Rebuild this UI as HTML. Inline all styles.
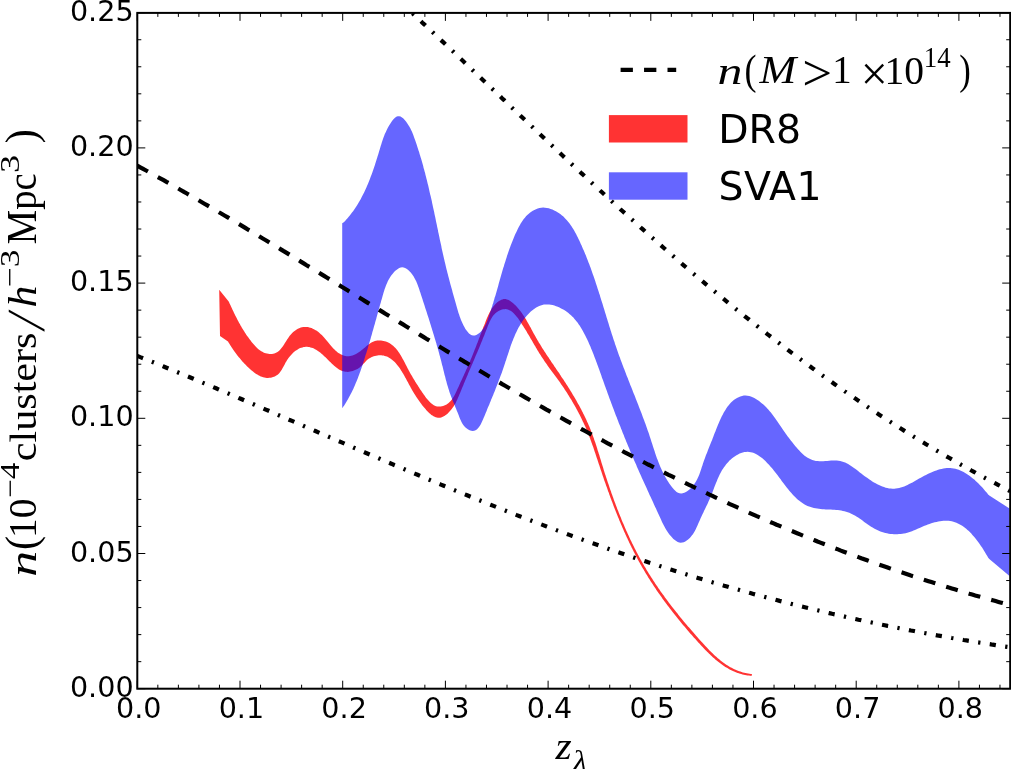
<!DOCTYPE html>
<html><head><meta charset="utf-8"><title>n(z)</title>
<style>
html,body{margin:0;padding:0;background:#fff;}
body{width:1011px;height:769px;overflow:hidden;}
svg{display:block}
.tk{font-family:"DejaVu Sans","Liberation Sans",sans-serif;font-size:28.6px;fill:#000}
.lg{font-family:"DejaVu Sans","Liberation Sans",sans-serif;font-size:39.4px;fill:#000}
.mi{font-family:"Liberation Serif",serif;font-style:italic;fill:#000}
.mr{font-family:"Liberation Serif",serif;fill:#000}
</style></head><body>
<svg width="1011" height="769" viewBox="0 0 1011 769">
<defs><clipPath id="ax"><rect x="137.30" y="12.90" width="872.90" height="675.80"/></clipPath></defs>
<rect width="1011" height="769" fill="#fff"/>
<g clip-path="url(#ax)">
<path d="M219.2 289.8 L228.7 301.5 L228.7 301.5 L229.3 302.7 L229.8 303.9 L230.4 305.1 L230.9 306.3 L231.5 307.5 L232.1 308.7 L232.6 309.9 L233.2 311.1 L233.7 312.2 L234.3 313.4 L234.8 314.5 L235.4 315.7 L236.0 316.8 L236.6 317.9 L237.1 319.1 L237.7 320.2 L238.3 321.3 L238.9 322.4 L239.5 323.5 L240.1 324.6 L240.7 325.7 L241.4 326.8 L242.0 327.9 L242.7 329.0 L243.3 330.1 L244.0 331.1 L244.7 332.2 L245.4 333.3 L246.1 334.4 L246.8 335.5 L247.6 336.5 L248.4 337.6 L249.2 338.7 L250.0 339.8 L250.8 340.8 L251.6 341.9 L252.5 343.0 L253.4 344.0 L254.3 345.1 L255.2 346.1 L256.1 347.0 L257.1 348.0 L258.1 348.9 L259.1 349.7 L260.2 350.5 L261.3 351.2 L262.4 351.8 L263.5 352.4 L264.6 352.9 L265.8 353.3 L267.0 353.6 L268.3 353.8 L269.5 354.0 L270.8 354.0 L272.0 353.9 L273.2 353.7 L274.3 353.5 L275.5 353.1 L276.5 352.6 L277.5 352.0 L278.5 351.3 L279.4 350.5 L280.3 349.6 L281.1 348.6 L281.9 347.6 L282.7 346.6 L283.4 345.5 L284.2 344.3 L284.9 343.1 L285.6 342.0 L286.4 340.8 L287.1 339.6 L287.9 338.4 L288.7 337.2 L289.5 336.1 L290.4 335.0 L291.3 334.0 L292.2 333.0 L293.2 332.1 L294.2 331.2 L295.3 330.4 L296.3 329.7 L297.4 329.1 L298.5 328.5 L299.7 328.0 L300.8 327.6 L302.0 327.3 L303.2 327.0 L304.4 326.9 L305.6 326.9 L306.8 326.9 L308.0 327.1 L309.2 327.4 L310.4 327.7 L311.6 328.1 L312.8 328.7 L314.0 329.2 L315.1 329.9 L316.3 330.6 L317.4 331.3 L318.4 332.1 L319.5 333.0 L320.5 333.9 L321.5 334.8 L322.5 335.7 L323.4 336.7 L324.3 337.7 L325.1 338.7 L326.0 339.7 L326.8 340.7 L327.7 341.7 L328.5 342.8 L329.3 343.8 L330.1 344.8 L331.0 345.8 L331.8 346.8 L332.7 347.8 L333.6 348.7 L334.5 349.6 L335.4 350.5 L336.4 351.3 L337.4 352.2 L338.4 352.9 L339.5 353.6 L340.6 354.3 L341.8 354.8 L342.9 355.3 L344.1 355.7 L345.3 356.0 L346.5 356.2 L347.7 356.3 L348.9 356.2 L350.1 356.1 L351.3 355.8 L352.5 355.4 L353.7 355.0 L354.9 354.5 L356.0 353.9 L357.2 353.2 L358.4 352.5 L359.5 351.7 L360.6 350.9 L361.7 350.0 L362.8 349.2 L363.9 348.3 L365.0 347.4 L366.0 346.5 L367.1 345.6 L368.1 344.8 L369.2 344.0 L370.3 343.2 L371.4 342.6 L372.5 342.0 L373.7 341.5 L374.9 341.1 L376.1 340.8 L377.3 340.6 L378.5 340.5 L379.8 340.5 L381.0 340.5 L382.3 340.7 L383.5 340.9 L384.7 341.2 L385.9 341.5 L387.1 342.0 L388.2 342.5 L389.3 343.0 L390.4 343.7 L391.4 344.4 L392.4 345.2 L393.4 346.0 L394.3 346.9 L395.2 347.8 L396.1 348.8 L396.9 349.8 L397.7 350.8 L398.5 351.9 L399.3 353.0 L400.0 354.2 L400.7 355.3 L401.4 356.5 L402.1 357.7 L402.7 358.9 L403.4 360.1 L404.0 361.3 L404.7 362.5 L405.3 363.7 L405.9 364.9 L406.5 366.1 L407.1 367.3 L407.7 368.4 L408.3 369.5 L408.9 370.7 L409.5 371.8 L410.1 372.9 L410.7 374.0 L411.3 375.0 L412.0 376.1 L412.6 377.2 L413.2 378.2 L413.8 379.3 L414.5 380.3 L415.1 381.4 L415.8 382.5 L416.4 383.5 L417.1 384.6 L417.8 385.6 L418.5 386.7 L419.2 387.8 L419.9 388.9 L420.6 390.0 L421.4 391.1 L422.1 392.2 L422.9 393.3 L423.7 394.5 L424.5 395.6 L425.3 396.8 L426.2 397.9 L427.1 399.0 L428.0 400.1 L428.9 401.1 L429.8 402.1 L430.8 403.0 L431.8 403.8 L432.8 404.6 L433.8 405.2 L434.9 405.7 L436.0 406.2 L437.2 406.5 L438.3 406.6 L439.5 406.6 L440.7 406.5 L441.9 406.3 L443.1 406.0 L444.3 405.6 L445.5 405.0 L446.6 404.4 L447.6 403.7 L448.6 403.0 L449.6 402.1 L450.4 401.2 L451.3 400.2 L452.1 399.2 L452.8 398.1 L453.5 397.0 L454.1 395.9 L454.8 394.7 L455.4 393.5 L456.0 392.3 L456.6 391.1 L457.1 389.8 L457.7 388.6 L458.2 387.4 L458.8 386.2 L459.3 385.0 L459.9 383.7 L460.4 382.5 L461.0 381.3 L461.5 380.2 L462.1 379.0 L462.6 377.8 L463.2 376.6 L463.7 375.4 L464.2 374.3 L464.8 373.1 L465.3 371.9 L465.8 370.8 L466.3 369.6 L466.9 368.4 L467.4 367.3 L467.9 366.1 L468.4 364.9 L468.9 363.8 L469.4 362.6 L469.9 361.4 L470.4 360.2 L470.9 359.1 L471.4 357.9 L471.9 356.7 L472.4 355.5 L472.9 354.3 L473.3 353.2 L473.8 352.0 L474.3 350.8 L474.7 349.6 L475.2 348.4 L475.7 347.2 L476.2 346.0 L476.6 344.8 L477.1 343.6 L477.6 342.4 L478.0 341.2 L478.5 340.0 L478.9 338.8 L479.4 337.6 L479.9 336.4 L480.3 335.1 L480.8 333.9 L481.3 332.7 L481.7 331.5 L482.2 330.3 L482.7 329.1 L483.1 327.8 L483.6 326.6 L484.1 325.4 L484.6 324.2 L485.1 322.9 L485.5 321.7 L486.0 320.5 L486.5 319.2 L487.0 318.0 L487.6 316.8 L488.1 315.6 L488.6 314.4 L489.2 313.2 L489.8 312.0 L490.5 310.9 L491.1 309.7 L491.8 308.6 L492.6 307.5 L493.3 306.5 L494.2 305.5 L495.0 304.5 L496.0 303.5 L497.0 302.6 L498.0 301.8 L499.0 301.0 L500.1 300.4 L501.3 299.8 L502.4 299.4 L503.5 299.1 L504.7 299.0 L505.8 299.1 L506.9 299.4 L508.0 299.8 L509.1 300.3 L510.2 300.9 L511.2 301.7 L512.2 302.5 L513.2 303.3 L514.2 304.2 L515.1 305.1 L516.1 306.1 L517.0 307.0 L517.8 308.0 L518.7 309.0 L519.5 310.0 L520.3 311.0 L521.1 312.1 L521.8 313.1 L522.6 314.2 L523.3 315.2 L524.0 316.3 L524.7 317.4 L525.4 318.5 L526.1 319.6 L526.7 320.8 L527.4 321.9 L528.0 323.0 L528.7 324.2 L529.3 325.3 L529.9 326.5 L530.6 327.6 L531.2 328.8 L531.8 329.9 L532.4 331.1 L533.0 332.2 L533.7 333.4 L534.3 334.5 L534.9 335.6 L535.6 336.8 L536.2 337.9 L536.9 339.0 L537.5 340.2 L538.2 341.3 L538.8 342.4 L539.5 343.5 L540.2 344.6 L540.9 345.7 L541.5 346.8 L542.2 347.9 L542.9 349.0 L543.6 350.1 L544.3 351.2 L545.0 352.2 L545.7 353.3 L546.4 354.4 L547.1 355.5 L547.8 356.5 L548.6 357.6 L549.3 358.7 L550.0 359.8 L550.7 360.8 L551.4 361.9 L552.1 363.0 L552.9 364.0 L553.6 365.1 L554.3 366.2 L555.0 367.2 L555.8 368.3 L556.5 369.4 L557.2 370.4 L557.9 371.5 L558.7 372.6 L559.4 373.6 L560.1 374.7 L560.8 375.8 L561.5 376.9 L562.2 377.9 L563.0 379.0 L563.7 380.1 L564.4 381.2 L565.1 382.3 L565.8 383.3 L566.5 384.4 L567.2 385.5 L567.9 386.6 L568.6 387.7 L569.3 388.8 L570.0 389.9 L570.6 391.0 L571.3 392.1 L572.0 393.3 L572.7 394.4 L573.3 395.5 L574.0 396.6 L574.7 397.7 L575.3 398.8 L576.0 400.0 L576.6 401.1 L577.2 402.2 L577.9 403.4 L578.5 404.5 L579.1 405.6 L579.8 406.8 L580.4 407.9 L581.0 409.1 L581.6 410.2 L582.2 411.4 L582.8 412.5 L583.3 413.7 L583.9 414.8 L584.5 416.0 L585.1 417.2 L585.6 418.3 L586.2 419.5 L586.7 420.7 L587.2 421.9 L587.8 423.0 L588.3 424.2 L588.8 425.4 L589.3 426.6 L589.8 427.8 L590.3 429.0 L590.8 430.2 L591.2 431.4 L591.7 432.6 L592.2 433.8 L592.6 435.0 L593.0 436.2 L593.5 437.4 L593.9 438.6 L594.3 439.9 L594.7 441.1 L595.2 442.3 L595.6 443.5 L596.0 444.7 L596.4 446.0 L596.8 447.2 L597.2 448.4 L597.5 449.7 L597.9 450.9 L598.3 452.1 L598.7 453.4 L599.1 454.6 L599.5 455.8 L599.8 457.1 L600.2 458.3 L600.6 459.6 L601.0 460.8 L601.3 462.0 L601.7 463.3 L602.1 464.5 L602.5 465.7 L602.9 467.0 L603.3 468.2 L603.6 469.5 L604.0 470.7 L604.4 471.9 L604.8 473.2 L605.2 474.4 L605.6 475.6 L606.0 476.9 L606.4 478.1 L606.8 479.3 L607.2 480.6 L607.6 481.8 L608.0 483.0 L608.5 484.3 L608.9 485.5 L609.3 486.7 L609.7 488.0 L610.1 489.2 L610.6 490.4 L611.0 491.6 L611.4 492.9 L611.8 494.1 L612.3 495.3 L612.7 496.5 L613.2 497.7 L613.6 499.0 L614.0 500.2 L614.5 501.4 L614.9 502.6 L615.4 503.8 L615.8 505.1 L616.3 506.3 L616.8 507.5 L617.2 508.7 L617.7 509.9 L618.2 511.1 L618.6 512.3 L619.1 513.5 L619.6 514.7 L620.1 515.9 L620.6 517.1 L621.1 518.3 L621.5 519.5 L622.0 520.7 L622.5 521.9 L623.0 523.1 L623.6 524.3 L624.1 525.5 L624.6 526.7 L625.1 527.9 L625.6 529.1 L626.1 530.3 L626.7 531.4 L627.2 532.6 L627.7 533.8 L628.3 535.0 L628.8 536.1 L629.3 537.3 L629.9 538.5 L630.4 539.7 L631.0 540.8 L631.6 542.0 L632.1 543.2 L632.7 544.3 L633.3 545.5 L633.8 546.6 L634.4 547.8 L635.0 548.9 L635.6 550.1 L636.2 551.2 L636.8 552.4 L637.4 553.5 L638.0 554.7 L638.6 555.8 L639.2 556.9 L639.8 558.1 L640.4 559.2 L641.1 560.3 L641.7 561.4 L642.3 562.6 L643.0 563.7 L643.6 564.8 L644.2 565.9 L644.9 567.0 L645.6 568.1 L646.2 569.3 L646.9 570.4 L647.6 571.5 L648.2 572.6 L648.9 573.7 L649.6 574.8 L650.3 575.8 L651.0 576.9 L651.7 578.0 L652.4 579.1 L653.1 580.2 L653.8 581.3 L654.5 582.3 L655.2 583.4 L655.9 584.5 L656.6 585.6 L657.4 586.6 L658.1 587.7 L658.8 588.8 L659.6 589.8 L660.3 590.9 L661.0 591.9 L661.8 593.0 L662.5 594.0 L663.3 595.1 L664.1 596.1 L664.8 597.2 L665.6 598.2 L666.4 599.3 L667.1 600.3 L667.9 601.3 L668.7 602.4 L669.5 603.4 L670.3 604.4 L671.0 605.5 L671.8 606.5 L672.6 607.5 L673.4 608.6 L674.2 609.6 L675.0 610.6 L675.8 611.6 L676.6 612.6 L677.5 613.6 L678.3 614.7 L679.1 615.7 L679.9 616.7 L680.7 617.7 L681.6 618.7 L682.4 619.7 L683.2 620.7 L684.0 621.7 L684.9 622.7 L685.7 623.7 L686.6 624.7 L687.4 625.7 L688.2 626.7 L689.1 627.6 L689.9 628.6 L690.8 629.6 L691.6 630.6 L692.5 631.6 L693.4 632.6 L694.2 633.6 L695.1 634.5 L695.9 635.5 L696.8 636.5 L697.7 637.5 L698.5 638.4 L699.4 639.4 L700.3 640.4 L701.2 641.4 L702.0 642.3 L702.9 643.3 L703.8 644.3 L704.7 645.2 L705.6 646.2 L706.4 647.1 L707.3 648.1 L708.2 649.0 L709.1 649.9 L710.0 650.9 L711.0 651.8 L711.9 652.7 L712.8 653.6 L713.7 654.5 L714.7 655.4 L715.6 656.2 L716.6 657.1 L717.5 657.9 L718.5 658.8 L719.5 659.6 L720.5 660.4 L721.5 661.2 L722.5 662.0 L723.5 662.7 L724.6 663.5 L725.6 664.2 L726.7 664.9 L727.7 665.6 L728.8 666.2 L729.9 666.9 L731.0 667.5 L732.1 668.1 L733.3 668.7 L734.4 669.2 L735.6 669.8 L736.7 670.3 L737.9 670.7 L739.2 671.2 L740.4 671.6 L741.6 672.0 L742.9 672.4 L744.2 672.7 L745.5 673.1 L746.8 673.3 L748.1 673.6 L749.5 673.8 L750.9 674.0 L752.0 674.1 L751.5 676.0 L750.3 675.8 L748.9 675.6 L747.6 675.4 L746.3 675.2 L745.0 675.0 L743.7 674.7 L742.5 674.4 L741.2 674.1 L740.0 673.7 L738.8 673.3 L737.6 672.9 L736.4 672.5 L735.2 672.0 L734.1 671.5 L732.9 671.0 L731.8 670.5 L730.7 669.9 L729.6 669.4 L728.5 668.8 L727.4 668.1 L726.4 667.5 L725.3 666.9 L724.3 666.2 L723.2 665.5 L722.2 664.8 L721.2 664.1 L720.2 663.3 L719.2 662.6 L718.2 661.8 L717.3 661.0 L716.3 660.2 L715.3 659.4 L714.4 658.6 L713.4 657.8 L712.5 656.9 L711.6 656.1 L710.7 655.2 L709.8 654.3 L708.9 653.5 L708.0 652.6 L707.1 651.7 L706.2 650.8 L705.3 649.9 L704.4 648.9 L703.5 648.0 L702.6 647.1 L701.8 646.2 L700.9 645.2 L700.0 644.3 L699.2 643.3 L698.3 642.4 L697.5 641.5 L696.6 640.5 L695.8 639.6 L694.9 638.6 L694.0 637.7 L693.2 636.7 L692.4 635.8 L691.5 634.8 L690.7 633.9 L689.8 632.9 L689.0 631.9 L688.2 631.0 L687.3 630.0 L686.5 629.1 L685.7 628.1 L684.9 627.1 L684.0 626.1 L683.2 625.2 L682.4 624.2 L681.6 623.2 L680.8 622.2 L680.0 621.3 L679.2 620.3 L678.4 619.3 L677.6 618.3 L676.8 617.3 L676.0 616.3 L675.2 615.3 L674.4 614.3 L673.6 613.3 L672.8 612.3 L672.0 611.3 L671.3 610.3 L670.5 609.3 L669.7 608.3 L669.0 607.3 L668.2 606.3 L667.4 605.3 L666.7 604.3 L665.9 603.3 L665.2 602.3 L664.4 601.2 L663.7 600.2 L662.9 599.2 L662.2 598.2 L661.5 597.1 L660.7 596.1 L660.0 595.1 L659.3 594.0 L658.5 593.0 L657.8 592.0 L657.1 590.9 L656.4 589.9 L655.7 588.8 L655.0 587.8 L654.3 586.7 L653.6 585.7 L652.9 584.6 L652.2 583.6 L651.5 582.5 L650.8 581.5 L650.2 580.4 L649.5 579.3 L648.8 578.3 L648.1 577.2 L647.5 576.1 L646.8 575.0 L646.2 574.0 L645.5 572.9 L644.9 571.8 L644.2 570.7 L643.6 569.6 L642.9 568.6 L642.3 567.5 L641.7 566.4 L641.1 565.3 L640.4 564.2 L639.8 563.1 L639.2 562.0 L638.6 560.9 L638.0 559.8 L637.4 558.7 L636.8 557.5 L636.2 556.4 L635.6 555.3 L635.0 554.2 L634.5 553.1 L633.9 552.0 L633.3 550.8 L632.8 549.7 L632.2 548.6 L631.6 547.4 L631.1 546.3 L630.5 545.2 L630.0 544.0 L629.4 542.9 L628.9 541.8 L628.3 540.6 L627.8 539.5 L627.3 538.3 L626.7 537.2 L626.2 536.0 L625.7 534.9 L625.2 533.7 L624.6 532.6 L624.1 531.4 L623.6 530.3 L623.1 529.1 L622.6 528.0 L622.1 526.8 L621.6 525.6 L621.1 524.5 L620.6 523.3 L620.1 522.1 L619.6 521.0 L619.1 519.8 L618.7 518.6 L618.2 517.5 L617.7 516.3 L617.2 515.1 L616.8 513.9 L616.3 512.8 L615.8 511.6 L615.4 510.4 L614.9 509.2 L614.4 508.0 L614.0 506.9 L613.5 505.7 L613.1 504.5 L612.6 503.3 L612.2 502.1 L611.7 500.9 L611.3 499.7 L610.8 498.6 L610.4 497.4 L610.0 496.2 L609.5 495.0 L609.1 493.8 L608.7 492.6 L608.2 491.4 L607.8 490.2 L607.4 489.0 L607.0 487.8 L606.5 486.6 L606.1 485.4 L605.7 484.2 L605.3 483.0 L604.9 481.9 L604.4 480.7 L604.0 479.5 L603.6 478.3 L603.2 477.1 L602.8 475.9 L602.4 474.7 L602.0 473.5 L601.6 472.3 L601.2 471.1 L600.8 469.9 L600.4 468.7 L600.0 467.5 L599.6 466.3 L599.2 465.1 L598.8 463.9 L598.4 462.7 L598.0 461.5 L597.6 460.3 L597.2 459.1 L596.8 457.9 L596.4 456.7 L596.0 455.5 L595.6 454.3 L595.2 453.1 L594.8 451.9 L594.4 450.7 L594.0 449.5 L593.6 448.3 L593.2 447.1 L592.8 445.9 L592.3 444.7 L591.9 443.5 L591.5 442.4 L591.1 441.2 L590.6 440.0 L590.2 438.8 L589.7 437.6 L589.3 436.5 L588.8 435.3 L588.4 434.1 L587.9 432.9 L587.4 431.8 L587.0 430.6 L586.5 429.4 L586.0 428.3 L585.5 427.1 L585.0 426.0 L584.4 424.8 L583.9 423.7 L583.4 422.5 L582.8 421.4 L582.3 420.2 L581.7 419.1 L581.2 417.9 L580.6 416.8 L580.1 415.7 L579.5 414.5 L578.9 413.4 L578.3 412.3 L577.7 411.2 L577.1 410.0 L576.5 408.9 L575.9 407.8 L575.3 406.7 L574.6 405.6 L574.0 404.5 L573.4 403.4 L572.7 402.3 L572.1 401.2 L571.5 400.1 L570.8 399.0 L570.1 397.9 L569.5 396.9 L568.8 395.8 L568.1 394.7 L567.4 393.6 L566.8 392.6 L566.1 391.5 L565.4 390.5 L564.7 389.4 L564.0 388.3 L563.3 387.3 L562.6 386.2 L561.9 385.2 L561.1 384.2 L560.4 383.1 L559.7 382.1 L559.0 381.1 L558.2 380.0 L557.5 379.0 L556.8 378.0 L556.0 377.0 L555.3 376.0 L554.5 375.0 L553.8 374.0 L553.0 373.0 L552.3 371.9 L551.5 370.9 L550.8 369.9 L550.0 368.9 L549.3 367.9 L548.6 366.9 L547.8 365.9 L547.1 364.8 L546.4 363.8 L545.6 362.8 L544.9 361.7 L544.2 360.7 L543.5 359.6 L542.8 358.6 L542.1 357.5 L541.4 356.4 L540.7 355.3 L540.0 354.2 L539.3 353.2 L538.6 352.1 L538.0 351.0 L537.3 349.9 L536.7 348.8 L536.0 347.7 L535.4 346.6 L534.7 345.5 L534.1 344.4 L533.4 343.3 L532.8 342.2 L532.2 341.1 L531.6 340.0 L530.9 339.0 L530.3 337.9 L529.7 336.8 L529.1 335.8 L528.5 334.7 L527.8 333.7 L527.2 332.7 L526.6 331.6 L526.0 330.6 L525.3 329.5 L524.7 328.4 L524.0 327.4 L523.3 326.3 L522.6 325.2 L521.9 324.2 L521.2 323.1 L520.5 321.9 L519.7 320.8 L519.0 319.7 L518.2 318.6 L517.4 317.5 L516.5 316.4 L515.7 315.4 L514.8 314.4 L513.9 313.4 L512.9 312.5 L512.0 311.7 L511.0 311.0 L510.0 310.4 L508.9 309.9 L507.8 309.5 L506.7 309.3 L505.6 309.1 L504.4 309.2 L503.2 309.3 L502.0 309.6 L500.8 310.0 L499.6 310.5 L498.5 311.1 L497.4 311.8 L496.3 312.5 L495.4 313.3 L494.5 314.2 L493.7 315.1 L492.9 316.1 L492.2 317.1 L491.5 318.2 L490.9 319.3 L490.3 320.4 L489.7 321.5 L489.2 322.7 L488.7 323.9 L488.2 325.1 L487.7 326.3 L487.3 327.5 L486.8 328.7 L486.3 329.9 L485.9 331.1 L485.4 332.3 L484.9 333.5 L484.5 334.7 L484.0 335.9 L483.5 337.1 L483.0 338.3 L482.5 339.5 L482.1 340.7 L481.6 341.8 L481.1 343.0 L480.6 344.2 L480.1 345.4 L479.7 346.5 L479.2 347.7 L478.7 348.9 L478.2 350.0 L477.7 351.2 L477.2 352.4 L476.7 353.5 L476.2 354.7 L475.7 355.8 L475.2 357.0 L474.8 358.1 L474.3 359.3 L473.8 360.5 L473.3 361.6 L472.8 362.8 L472.3 363.9 L471.8 365.1 L471.3 366.2 L470.8 367.4 L470.3 368.5 L469.8 369.7 L469.3 370.8 L468.8 372.0 L468.3 373.1 L467.9 374.3 L467.4 375.4 L466.9 376.6 L466.4 377.7 L465.9 378.9 L465.4 380.1 L464.9 381.2 L464.4 382.4 L463.9 383.5 L463.5 384.7 L463.0 385.9 L462.5 387.0 L462.0 388.2 L461.5 389.4 L461.1 390.6 L460.6 391.7 L460.1 392.9 L459.6 394.1 L459.1 395.3 L458.6 396.5 L458.1 397.6 L457.6 398.8 L457.1 399.9 L456.5 401.1 L456.0 402.2 L455.4 403.4 L454.7 404.5 L454.1 405.6 L453.4 406.7 L452.6 407.7 L451.9 408.8 L451.1 409.8 L450.2 410.8 L449.3 411.8 L448.4 412.8 L447.5 413.7 L446.5 414.5 L445.4 415.3 L444.4 415.9 L443.3 416.5 L442.3 417.0 L441.2 417.4 L440.1 417.7 L439.0 417.8 L437.9 417.8 L436.8 417.6 L435.7 417.3 L434.6 416.8 L433.5 416.3 L432.5 415.6 L431.4 414.9 L430.4 414.1 L429.4 413.2 L428.4 412.2 L427.4 411.2 L426.4 410.2 L425.5 409.1 L424.6 408.1 L423.7 407.0 L422.8 405.9 L422.0 404.9 L421.2 403.8 L420.4 402.8 L419.7 401.8 L419.0 400.8 L418.3 399.8 L417.6 398.8 L416.9 397.8 L416.2 396.8 L415.6 395.8 L415.0 394.8 L414.3 393.8 L413.7 392.8 L413.1 391.8 L412.5 390.8 L411.9 389.8 L411.4 388.7 L410.8 387.7 L410.2 386.6 L409.6 385.5 L409.0 384.4 L408.4 383.2 L407.8 382.1 L407.1 380.9 L406.5 379.7 L405.9 378.6 L405.2 377.4 L404.6 376.2 L403.9 375.0 L403.2 373.8 L402.5 372.7 L401.8 371.5 L401.1 370.4 L400.4 369.2 L399.6 368.1 L398.8 367.1 L398.0 366.0 L397.2 365.0 L396.4 364.0 L395.6 363.0 L394.7 362.1 L393.8 361.3 L392.9 360.4 L392.0 359.7 L391.0 358.9 L390.0 358.3 L389.0 357.7 L388.0 357.1 L386.9 356.6 L385.8 356.2 L384.7 355.9 L383.6 355.6 L382.4 355.4 L381.2 355.3 L380.0 355.3 L378.7 355.3 L377.5 355.5 L376.2 355.7 L374.9 355.9 L373.7 356.3 L372.5 356.8 L371.3 357.3 L370.1 357.9 L369.0 358.5 L368.0 359.3 L367.0 360.1 L366.1 361.0 L365.2 361.9 L364.3 362.9 L363.4 363.8 L362.6 364.8 L361.6 365.7 L360.7 366.6 L359.7 367.4 L358.6 368.2 L357.5 368.9 L356.3 369.5 L355.1 370.1 L353.9 370.6 L352.7 371.0 L351.5 371.3 L350.2 371.6 L349.0 371.8 L347.8 371.9 L346.6 371.8 L345.5 371.7 L344.3 371.5 L343.2 371.3 L342.1 370.9 L341.1 370.5 L340.0 370.0 L339.0 369.4 L338.0 368.7 L337.0 368.1 L336.0 367.3 L335.1 366.5 L334.1 365.7 L333.1 364.8 L332.2 364.0 L331.2 363.0 L330.3 362.1 L329.3 361.2 L328.4 360.2 L327.4 359.2 L326.5 358.3 L325.5 357.3 L324.5 356.4 L323.5 355.4 L322.5 354.5 L321.5 353.7 L320.5 352.8 L319.4 352.0 L318.3 351.2 L317.2 350.5 L316.1 349.8 L315.0 349.2 L313.9 348.6 L312.8 348.1 L311.6 347.7 L310.5 347.4 L309.3 347.1 L308.2 346.9 L307.0 346.8 L305.9 346.8 L304.7 346.9 L303.6 347.1 L302.5 347.4 L301.3 347.7 L300.2 348.1 L299.1 348.6 L298.0 349.2 L297.0 349.9 L295.9 350.6 L294.9 351.3 L293.9 352.1 L292.9 353.0 L292.0 353.9 L291.1 354.9 L290.2 355.9 L289.3 356.9 L288.5 358.0 L287.8 359.1 L287.0 360.2 L286.3 361.4 L285.6 362.5 L285.0 363.7 L284.4 364.9 L283.8 366.0 L283.1 367.2 L282.5 368.3 L281.9 369.4 L281.2 370.5 L280.5 371.5 L279.8 372.4 L279.0 373.4 L278.2 374.2 L277.3 374.9 L276.3 375.6 L275.2 376.2 L274.1 376.7 L273.0 377.1 L271.8 377.5 L270.6 377.7 L269.3 377.8 L268.0 377.9 L266.8 377.9 L265.5 377.7 L264.3 377.5 L263.1 377.2 L261.9 376.8 L260.7 376.4 L259.5 375.8 L258.4 375.2 L257.3 374.6 L256.2 373.9 L255.1 373.2 L254.1 372.4 L253.0 371.6 L252.0 370.8 L251.0 369.9 L250.0 369.0 L249.1 368.2 L248.1 367.3 L247.2 366.4 L246.3 365.5 L245.4 364.6 L244.5 363.7 L243.7 362.8 L242.8 361.9 L242.0 361.0 L241.2 360.0 L240.4 359.1 L239.6 358.1 L238.8 357.2 L238.0 356.2 L237.2 355.2 L236.5 354.2 L235.8 353.2 L235.0 352.2 L234.3 351.2 L233.6 350.2 L232.9 349.2 L232.1 348.1 L231.4 347.0 L230.8 346.0 L230.1 344.9 L229.4 343.8 L228.7 342.7 L228.0 341.6 L228.0 341.6 L220.0 336.0Z" fill="#ff0000" fill-opacity="0.8"/>
<path d="M342.2 223.2 L343.8 222.2 L345.1 220.9 L346.3 219.6 L347.5 218.2 L348.7 216.8 L349.8 215.5 L350.9 214.0 L352.0 212.6 L353.1 211.2 L354.1 209.7 L355.1 208.2 L356.1 206.7 L357.1 205.2 L358.1 203.6 L359.0 202.0 L359.9 200.5 L360.8 198.9 L361.6 197.3 L362.5 195.6 L363.3 194.0 L364.1 192.4 L364.9 190.7 L365.7 189.0 L366.4 187.4 L367.1 185.7 L367.9 184.0 L368.6 182.3 L369.3 180.6 L369.9 178.9 L370.6 177.1 L371.2 175.4 L371.9 173.7 L372.5 171.9 L373.1 170.2 L373.7 168.5 L374.3 166.7 L374.9 165.0 L375.4 163.2 L376.0 161.5 L376.5 159.8 L377.1 158.0 L377.6 156.3 L378.2 154.6 L378.7 152.8 L379.2 151.1 L379.7 149.4 L380.2 147.7 L380.7 146.0 L381.3 144.3 L381.8 142.6 L382.3 140.9 L382.9 139.2 L383.5 137.5 L384.2 135.8 L384.8 134.1 L385.6 132.4 L386.4 130.7 L387.2 129.0 L388.1 127.3 L389.1 125.6 L390.1 123.9 L391.2 122.2 L392.4 120.6 L393.7 119.1 L395.0 117.8 L396.3 116.8 L397.7 116.3 L399.1 116.2 L400.6 116.6 L402.0 117.4 L403.4 118.5 L404.7 119.9 L406.0 121.5 L407.2 123.2 L408.3 124.9 L409.3 126.5 L410.3 128.2 L411.1 129.9 L411.9 131.6 L412.6 133.3 L413.3 135.0 L413.9 136.7 L414.5 138.4 L415.1 140.1 L415.7 141.8 L416.3 143.5 L416.9 145.2 L417.4 147.0 L418.0 148.7 L418.5 150.4 L419.1 152.1 L419.6 153.9 L420.1 155.6 L420.7 157.4 L421.2 159.1 L421.7 160.8 L422.2 162.6 L422.7 164.3 L423.2 166.1 L423.6 167.9 L424.1 169.6 L424.6 171.4 L425.1 173.1 L425.5 174.9 L426.0 176.7 L426.4 178.4 L426.9 180.2 L427.3 182.0 L427.7 183.8 L428.2 185.5 L428.6 187.3 L429.0 189.1 L429.4 190.9 L429.8 192.7 L430.2 194.4 L430.7 196.2 L431.1 198.0 L431.5 199.8 L431.9 201.6 L432.2 203.3 L432.6 205.1 L433.0 206.9 L433.4 208.7 L433.8 210.5 L434.2 212.3 L434.5 214.0 L434.9 215.8 L435.3 217.6 L435.7 219.4 L436.0 221.2 L436.4 223.0 L436.8 224.7 L437.1 226.5 L437.5 228.3 L437.9 230.1 L438.2 231.9 L438.6 233.6 L439.0 235.4 L439.4 237.2 L439.7 239.0 L440.1 240.8 L440.5 242.5 L440.9 244.3 L441.3 246.1 L441.6 247.9 L442.0 249.7 L442.4 251.4 L442.8 253.2 L443.2 255.0 L443.6 256.8 L444.0 258.6 L444.4 260.3 L444.8 262.1 L445.3 263.9 L445.7 265.7 L446.1 267.4 L446.5 269.2 L447.0 271.0 L447.4 272.8 L447.9 274.6 L448.3 276.3 L448.8 278.1 L449.3 279.9 L449.7 281.6 L450.2 283.4 L450.7 285.2 L451.2 286.9 L451.7 288.7 L452.2 290.5 L452.6 292.2 L453.1 294.0 L453.6 295.7 L454.1 297.5 L454.6 299.2 L455.1 300.9 L455.6 302.7 L456.1 304.4 L456.5 306.1 L457.0 307.8 L457.5 309.5 L458.0 311.2 L458.5 312.9 L459.1 314.6 L459.7 316.4 L460.3 318.1 L461.0 319.9 L461.7 321.6 L462.6 323.4 L463.4 325.2 L464.4 327.1 L465.4 328.9 L466.6 330.6 L467.8 332.1 L469.0 333.5 L470.4 334.6 L471.8 335.3 L473.2 335.6 L474.8 335.5 L476.3 334.9 L477.9 334.1 L479.4 333.0 L480.8 331.7 L482.0 330.2 L483.2 328.7 L484.2 327.2 L485.1 325.5 L485.9 323.9 L486.7 322.2 L487.4 320.4 L488.0 318.7 L488.6 316.9 L489.2 315.2 L489.8 313.4 L490.4 311.6 L491.0 309.9 L491.5 308.1 L492.1 306.4 L492.6 304.6 L493.2 302.9 L493.7 301.1 L494.2 299.4 L494.7 297.6 L495.3 295.9 L495.8 294.2 L496.3 292.4 L496.8 290.7 L497.3 288.9 L497.8 287.2 L498.3 285.5 L498.7 283.7 L499.2 282.0 L499.7 280.3 L500.2 278.5 L500.7 276.8 L501.2 275.0 L501.7 273.3 L502.2 271.6 L502.7 269.8 L503.2 268.1 L503.8 266.4 L504.3 264.6 L504.8 262.9 L505.4 261.2 L505.9 259.5 L506.5 257.7 L507.0 256.0 L507.6 254.3 L508.2 252.5 L508.8 250.8 L509.4 249.1 L510.0 247.4 L510.7 245.6 L511.3 243.9 L512.0 242.2 L512.7 240.5 L513.4 238.8 L514.1 237.0 L514.8 235.3 L515.6 233.6 L516.4 231.9 L517.2 230.2 L518.0 228.5 L518.9 226.8 L519.8 225.2 L520.7 223.6 L521.7 222.1 L522.7 220.5 L523.7 219.1 L524.9 217.7 L526.0 216.3 L527.3 215.1 L528.5 213.9 L529.9 212.7 L531.3 211.7 L532.8 210.8 L534.4 209.9 L536.0 209.2 L537.7 208.6 L539.5 208.1 L541.3 207.8 L543.2 207.6 L545.0 207.7 L546.9 207.9 L548.8 208.3 L550.6 208.9 L552.4 209.6 L554.2 210.4 L555.9 211.3 L557.5 212.2 L559.1 213.2 L560.6 214.3 L562.0 215.4 L563.4 216.6 L564.7 217.9 L565.9 219.2 L567.1 220.5 L568.3 221.9 L569.4 223.3 L570.4 224.7 L571.5 226.2 L572.4 227.7 L573.4 229.3 L574.3 230.8 L575.2 232.4 L576.1 234.0 L576.9 235.7 L577.7 237.3 L578.5 238.9 L579.3 240.6 L580.1 242.2 L580.8 243.9 L581.6 245.6 L582.3 247.2 L583.0 248.9 L583.8 250.6 L584.5 252.3 L585.2 254.0 L585.9 255.6 L586.5 257.3 L587.2 259.0 L587.9 260.7 L588.5 262.4 L589.2 264.1 L589.8 265.8 L590.5 267.5 L591.1 269.2 L591.7 271.0 L592.3 272.7 L592.9 274.4 L593.5 276.1 L594.1 277.8 L594.7 279.6 L595.3 281.3 L595.8 283.0 L596.4 284.7 L597.0 286.5 L597.5 288.2 L598.1 289.9 L598.7 291.7 L599.2 293.4 L599.8 295.1 L600.3 296.9 L600.8 298.6 L601.4 300.4 L601.9 302.1 L602.5 303.8 L603.0 305.6 L603.5 307.3 L604.1 309.1 L604.6 310.8 L605.1 312.6 L605.7 314.3 L606.2 316.0 L606.7 317.8 L607.3 319.5 L607.8 321.3 L608.4 323.0 L608.9 324.8 L609.4 326.5 L610.0 328.2 L610.5 330.0 L611.1 331.7 L611.6 333.5 L612.2 335.2 L612.8 336.9 L613.3 338.7 L613.9 340.4 L614.5 342.1 L615.0 343.9 L615.6 345.6 L616.2 347.3 L616.8 349.0 L617.4 350.8 L618.0 352.5 L618.6 354.2 L619.2 355.9 L619.9 357.6 L620.5 359.4 L621.1 361.1 L621.8 362.8 L622.4 364.5 L623.1 366.2 L623.7 367.9 L624.4 369.6 L625.0 371.3 L625.7 373.0 L626.3 374.7 L627.0 376.4 L627.7 378.1 L628.3 379.8 L629.0 381.5 L629.7 383.2 L630.3 384.9 L631.0 386.6 L631.7 388.3 L632.4 390.0 L633.0 391.7 L633.7 393.4 L634.4 395.1 L635.1 396.8 L635.7 398.5 L636.4 400.2 L637.1 401.9 L637.7 403.6 L638.4 405.3 L639.0 407.0 L639.7 408.7 L640.4 410.4 L641.0 412.1 L641.7 413.8 L642.3 415.5 L642.9 417.2 L643.6 418.9 L644.2 420.6 L644.8 422.3 L645.5 424.0 L646.1 425.7 L646.7 427.4 L647.3 429.2 L647.9 430.9 L648.5 432.6 L649.1 434.3 L649.6 436.0 L650.2 437.7 L650.8 439.5 L651.3 441.2 L651.9 442.9 L652.4 444.6 L653.0 446.4 L653.5 448.1 L654.1 449.8 L654.7 451.5 L655.2 453.2 L655.8 455.0 L656.4 456.7 L657.0 458.4 L657.7 460.1 L658.3 461.8 L659.0 463.5 L659.7 465.2 L660.4 466.9 L661.1 468.6 L661.9 470.2 L662.7 471.9 L663.5 473.6 L664.4 475.2 L665.3 476.9 L666.2 478.5 L667.2 480.2 L668.2 481.8 L669.3 483.4 L670.4 485.0 L671.5 486.6 L672.7 488.1 L674.0 489.5 L675.3 490.8 L676.6 491.9 L678.0 492.8 L679.5 493.3 L681.1 493.5 L682.7 493.3 L684.3 492.8 L685.9 492.0 L687.5 491.0 L689.1 489.8 L690.6 488.4 L692.0 486.9 L693.3 485.4 L694.5 483.8 L695.5 482.3 L696.5 480.6 L697.3 479.0 L698.1 477.3 L698.8 475.7 L699.5 474.0 L700.1 472.3 L700.7 470.5 L701.3 468.8 L701.8 467.1 L702.4 465.4 L702.9 463.7 L703.5 462.0 L704.1 460.2 L704.8 458.5 L705.4 456.8 L706.0 455.1 L706.7 453.4 L707.4 451.7 L708.0 450.0 L708.7 448.3 L709.4 446.6 L710.0 445.0 L710.7 443.3 L711.4 441.6 L712.1 439.9 L712.7 438.2 L713.4 436.5 L714.0 434.8 L714.7 433.1 L715.4 431.4 L716.0 429.7 L716.7 428.0 L717.4 426.3 L718.1 424.6 L718.8 422.9 L719.5 421.3 L720.3 419.6 L721.0 417.9 L721.8 416.3 L722.7 414.7 L723.5 413.1 L724.4 411.4 L725.4 409.9 L726.4 408.3 L727.4 406.8 L728.5 405.4 L729.7 404.0 L731.0 402.6 L732.4 401.3 L733.8 400.1 L735.3 399.0 L737.0 398.0 L738.6 397.2 L740.3 396.5 L742.1 395.9 L743.8 395.6 L745.6 395.6 L747.4 395.7 L749.2 396.1 L750.9 396.6 L752.6 397.3 L754.3 398.1 L755.9 399.1 L757.5 400.1 L759.1 401.1 L760.5 402.2 L762.0 403.4 L763.4 404.6 L764.7 405.8 L766.0 407.1 L767.3 408.4 L768.5 409.8 L769.7 411.2 L770.9 412.6 L772.0 414.0 L773.1 415.4 L774.2 416.9 L775.3 418.4 L776.3 419.9 L777.4 421.4 L778.4 422.9 L779.4 424.4 L780.5 425.9 L781.5 427.4 L782.5 428.9 L783.5 430.4 L784.6 431.9 L785.6 433.4 L786.7 434.9 L787.7 436.4 L788.8 437.8 L789.9 439.3 L791.0 440.7 L792.1 442.1 L793.2 443.6 L794.4 445.0 L795.6 446.4 L796.8 447.8 L798.0 449.2 L799.3 450.6 L800.6 452.0 L801.9 453.3 L803.2 454.5 L804.6 455.7 L806.1 456.7 L807.6 457.7 L809.1 458.6 L810.7 459.3 L812.4 460.0 L814.1 460.5 L815.9 460.9 L817.7 461.1 L819.5 461.3 L821.4 461.3 L823.3 461.3 L825.3 461.1 L827.2 461.0 L829.2 460.8 L831.1 460.6 L833.0 460.5 L834.9 460.5 L836.7 460.6 L838.5 460.8 L840.2 461.1 L841.9 461.5 L843.5 462.0 L845.1 462.6 L846.6 463.3 L848.1 464.1 L849.6 465.0 L851.1 465.9 L852.6 466.9 L854.0 467.9 L855.5 469.0 L856.9 470.1 L858.4 471.2 L859.8 472.4 L861.3 473.5 L862.8 474.7 L864.4 475.9 L865.9 477.0 L867.5 478.1 L869.1 479.2 L870.7 480.3 L872.3 481.4 L874.0 482.4 L875.6 483.3 L877.3 484.2 L879.0 485.1 L880.6 485.8 L882.3 486.5 L884.0 487.1 L885.7 487.7 L887.4 488.1 L889.1 488.4 L890.8 488.6 L892.5 488.7 L894.2 488.7 L895.8 488.6 L897.5 488.3 L899.2 487.9 L900.8 487.5 L902.5 487.0 L904.2 486.4 L905.8 485.7 L907.5 484.9 L909.1 484.1 L910.8 483.3 L912.5 482.4 L914.1 481.5 L915.8 480.5 L917.5 479.6 L919.1 478.6 L920.8 477.7 L922.5 476.8 L924.2 475.8 L926.0 474.9 L927.7 474.1 L929.4 473.2 L931.2 472.5 L932.9 471.7 L934.6 471.0 L936.4 470.4 L938.1 469.8 L939.9 469.3 L941.6 468.9 L943.4 468.5 L945.1 468.3 L946.8 468.1 L948.6 468.0 L950.3 468.1 L952.0 468.2 L953.7 468.4 L955.4 468.8 L957.0 469.2 L958.7 469.8 L960.3 470.5 L962.0 471.2 L963.6 472.0 L965.2 472.9 L966.8 473.9 L968.3 474.9 L969.8 476.0 L971.3 477.2 L972.8 478.4 L974.3 479.6 L975.7 480.9 L977.1 482.2 L978.5 483.5 L979.8 484.9 L981.1 486.3 L982.4 487.6 L983.6 489.0 L984.8 490.4 L985.9 491.7 L987.1 493.0 L988.1 494.4 L989.3 495.6 L989.3 495.6 L1009.5 508.5 L1009.5 576.0 L989.3 559.0 L989.3 559.0 L988.2 557.7 L987.4 556.3 L986.6 554.9 L985.7 553.4 L984.8 552.0 L983.9 550.5 L983.0 549.1 L982.1 547.6 L981.1 546.2 L980.1 544.7 L979.1 543.2 L978.0 541.8 L977.0 540.4 L975.9 539.0 L974.7 537.6 L973.6 536.2 L972.4 534.9 L971.3 533.6 L970.0 532.3 L968.8 531.1 L967.5 530.0 L966.2 528.8 L964.9 527.8 L963.6 526.8 L962.2 525.8 L960.8 525.0 L959.4 524.2 L957.9 523.4 L956.4 522.8 L954.9 522.2 L953.4 521.7 L951.8 521.3 L950.2 521.0 L948.5 520.8 L946.9 520.7 L945.2 520.7 L943.5 520.8 L941.8 520.9 L940.0 521.2 L938.3 521.5 L936.5 521.9 L934.7 522.3 L933.0 522.8 L931.3 523.3 L929.5 523.9 L927.8 524.5 L926.1 525.2 L924.5 525.8 L922.8 526.5 L921.2 527.2 L919.6 527.9 L918.1 528.6 L916.6 529.3 L915.0 530.0 L913.5 530.6 L912.0 531.2 L910.4 531.8 L908.9 532.3 L907.3 532.8 L905.7 533.2 L904.0 533.5 L902.4 533.8 L900.7 534.0 L899.0 534.1 L897.3 534.2 L895.6 534.2 L893.9 534.2 L892.2 534.1 L890.4 533.9 L888.7 533.7 L887.0 533.3 L885.3 533.0 L883.7 532.5 L882.0 532.0 L880.4 531.4 L878.8 530.8 L877.2 530.1 L875.6 529.3 L874.1 528.5 L872.6 527.6 L871.1 526.7 L869.7 525.7 L868.2 524.7 L866.8 523.7 L865.3 522.7 L863.9 521.7 L862.5 520.6 L861.1 519.6 L859.6 518.6 L858.2 517.6 L856.8 516.7 L855.3 515.8 L853.8 515.0 L852.3 514.2 L850.8 513.4 L849.3 512.8 L847.7 512.2 L846.1 511.7 L844.5 511.2 L842.9 510.9 L841.2 510.6 L839.5 510.3 L837.8 510.1 L836.1 510.0 L834.4 509.8 L832.7 509.7 L830.9 509.6 L829.2 509.5 L827.5 509.5 L825.7 509.4 L824.0 509.3 L822.3 509.2 L820.6 509.0 L818.9 508.8 L817.2 508.6 L815.5 508.3 L813.9 508.0 L812.2 507.6 L810.7 507.1 L809.1 506.6 L807.5 506.0 L806.0 505.2 L804.6 504.4 L803.1 503.6 L801.7 502.6 L800.3 501.6 L799.0 500.5 L797.6 499.4 L796.3 498.2 L795.1 497.0 L793.8 495.7 L792.6 494.4 L791.4 493.1 L790.2 491.8 L789.1 490.4 L788.0 489.0 L786.9 487.7 L785.8 486.3 L784.8 484.9 L783.7 483.6 L782.7 482.2 L781.7 480.9 L780.8 479.6 L779.8 478.2 L778.8 476.9 L777.8 475.6 L776.8 474.3 L775.8 473.0 L774.8 471.7 L773.8 470.4 L772.7 469.1 L771.6 467.7 L770.4 466.4 L769.2 465.0 L767.9 463.7 L766.7 462.4 L765.4 461.1 L764.0 459.8 L762.7 458.6 L761.3 457.5 L759.8 456.4 L758.4 455.4 L756.9 454.5 L755.4 453.8 L753.9 453.1 L752.3 452.6 L750.8 452.2 L749.2 451.9 L747.6 451.8 L746.0 451.9 L744.4 452.1 L742.8 452.5 L741.2 453.0 L739.6 453.6 L738.0 454.4 L736.5 455.2 L735.0 456.2 L733.5 457.2 L732.1 458.3 L730.8 459.4 L729.5 460.6 L728.3 461.9 L727.1 463.2 L726.0 464.5 L725.0 465.9 L724.0 467.2 L723.0 468.7 L722.1 470.1 L721.3 471.6 L720.5 473.1 L719.7 474.6 L718.9 476.2 L718.2 477.7 L717.5 479.3 L716.9 480.9 L716.2 482.5 L715.6 484.1 L714.9 485.7 L714.3 487.3 L713.7 488.9 L713.1 490.5 L712.5 492.2 L711.8 493.8 L711.2 495.4 L710.5 496.9 L709.9 498.5 L709.2 500.1 L708.5 501.6 L707.8 503.2 L707.1 504.7 L706.3 506.3 L705.6 507.8 L704.9 509.3 L704.1 510.8 L703.4 512.4 L702.6 513.9 L701.9 515.5 L701.2 517.0 L700.5 518.6 L699.8 520.2 L699.1 521.8 L698.4 523.3 L697.7 524.9 L697.0 526.5 L696.3 528.1 L695.5 529.7 L694.7 531.2 L693.8 532.7 L692.9 534.2 L691.8 535.6 L690.7 537.0 L689.5 538.3 L688.1 539.5 L686.7 540.6 L685.3 541.5 L683.8 542.2 L682.2 542.6 L680.7 542.7 L679.2 542.4 L677.7 541.9 L676.2 541.1 L674.8 540.1 L673.4 538.9 L672.1 537.6 L670.8 536.1 L669.6 534.7 L668.5 533.2 L667.5 531.8 L666.5 530.3 L665.6 528.8 L664.8 527.3 L664.0 525.8 L663.2 524.2 L662.4 522.7 L661.7 521.2 L661.0 519.6 L660.3 518.1 L659.6 516.6 L658.9 515.0 L658.2 513.5 L657.5 511.9 L656.8 510.4 L656.1 508.8 L655.3 507.3 L654.6 505.7 L653.9 504.2 L653.2 502.6 L652.5 501.1 L651.8 499.5 L651.1 498.0 L650.4 496.4 L649.6 494.9 L648.9 493.3 L648.2 491.7 L647.5 490.2 L646.8 488.6 L646.1 487.0 L645.4 485.5 L644.7 483.9 L644.0 482.4 L643.2 480.8 L642.5 479.2 L641.8 477.7 L641.1 476.1 L640.4 474.5 L639.7 473.0 L639.0 471.4 L638.3 469.8 L637.6 468.2 L636.9 466.7 L636.3 465.1 L635.6 463.5 L634.9 461.9 L634.2 460.4 L633.5 458.8 L632.9 457.2 L632.2 455.6 L631.5 454.1 L630.8 452.5 L630.2 450.9 L629.5 449.3 L628.9 447.8 L628.2 446.2 L627.5 444.6 L626.9 443.0 L626.2 441.4 L625.6 439.8 L624.9 438.3 L624.3 436.7 L623.7 435.1 L623.0 433.5 L622.4 431.9 L621.8 430.3 L621.1 428.7 L620.5 427.1 L619.9 425.5 L619.2 424.0 L618.6 422.4 L618.0 420.8 L617.4 419.2 L616.8 417.6 L616.1 416.0 L615.5 414.4 L614.9 412.8 L614.3 411.2 L613.7 409.6 L613.1 408.0 L612.5 406.4 L611.9 404.8 L611.3 403.2 L610.7 401.6 L610.1 400.0 L609.5 398.4 L608.9 396.8 L608.3 395.1 L607.7 393.5 L607.2 391.9 L606.6 390.3 L606.0 388.7 L605.4 387.1 L604.8 385.5 L604.3 383.9 L603.7 382.2 L603.1 380.6 L602.5 379.0 L601.9 377.4 L601.4 375.8 L600.8 374.1 L600.2 372.5 L599.7 370.9 L599.1 369.3 L598.5 367.7 L597.9 366.0 L597.3 364.4 L596.7 362.8 L596.1 361.2 L595.5 359.6 L594.9 358.0 L594.3 356.4 L593.7 354.8 L593.1 353.2 L592.4 351.6 L591.8 350.0 L591.1 348.4 L590.5 346.8 L589.8 345.2 L589.1 343.7 L588.4 342.1 L587.7 340.5 L587.0 339.0 L586.2 337.4 L585.5 335.9 L584.7 334.4 L583.9 332.9 L583.1 331.4 L582.3 329.9 L581.4 328.4 L580.5 327.0 L579.6 325.6 L578.6 324.2 L577.7 322.8 L576.6 321.5 L575.6 320.2 L574.5 318.9 L573.4 317.6 L572.2 316.4 L571.0 315.3 L569.7 314.2 L568.4 313.1 L567.1 312.0 L565.7 311.0 L564.2 310.1 L562.7 309.2 L561.1 308.4 L559.5 307.6 L557.8 306.8 L556.1 306.2 L554.4 305.6 L552.6 305.1 L550.9 304.8 L549.1 304.5 L547.3 304.4 L545.6 304.4 L543.9 304.6 L542.3 304.9 L540.7 305.4 L539.2 306.0 L537.7 306.7 L536.2 307.5 L534.8 308.4 L533.4 309.4 L532.1 310.4 L530.8 311.6 L529.6 312.7 L528.4 313.9 L527.2 315.2 L526.1 316.4 L525.1 317.7 L524.0 319.1 L523.0 320.4 L522.1 321.8 L521.2 323.2 L520.3 324.7 L519.4 326.2 L518.6 327.6 L517.8 329.1 L517.0 330.7 L516.3 332.2 L515.5 333.8 L514.8 335.4 L514.2 336.9 L513.5 338.6 L512.9 340.2 L512.2 341.8 L511.6 343.4 L511.0 345.1 L510.4 346.7 L509.9 348.4 L509.3 350.0 L508.8 351.7 L508.2 353.4 L507.7 355.0 L507.1 356.7 L506.6 358.3 L506.1 360.0 L505.5 361.6 L505.0 363.3 L504.4 364.9 L503.9 366.5 L503.3 368.2 L502.8 369.8 L502.2 371.4 L501.7 373.0 L501.1 374.5 L500.5 376.1 L499.9 377.7 L499.3 379.3 L498.7 380.8 L498.1 382.4 L497.5 384.0 L496.9 385.5 L496.3 387.1 L495.7 388.6 L495.1 390.2 L494.5 391.8 L493.8 393.3 L493.2 394.9 L492.5 396.5 L491.9 398.0 L491.2 399.6 L490.6 401.2 L489.9 402.8 L489.3 404.4 L488.6 406.0 L487.9 407.6 L487.2 409.3 L486.6 410.9 L485.9 412.5 L485.2 414.2 L484.5 415.9 L483.8 417.6 L483.1 419.3 L482.3 421.0 L481.6 422.6 L480.8 424.2 L479.9 425.7 L479.0 427.1 L478.0 428.3 L476.8 429.4 L475.6 430.2 L474.2 430.7 L472.7 430.9 L471.2 430.8 L469.6 430.3 L468.2 429.6 L466.8 428.6 L465.5 427.5 L464.3 426.2 L463.3 424.9 L462.3 423.4 L461.5 421.9 L460.7 420.3 L460.0 418.7 L459.3 417.0 L458.7 415.3 L458.0 413.6 L457.4 412.0 L456.7 410.4 L456.1 408.8 L455.4 407.2 L454.8 405.6 L454.1 404.0 L453.5 402.4 L452.8 400.9 L452.2 399.3 L451.6 397.7 L451.0 396.2 L450.4 394.6 L449.8 393.0 L449.3 391.4 L448.8 389.8 L448.3 388.2 L447.8 386.6 L447.3 384.9 L446.8 383.3 L446.4 381.6 L445.9 380.0 L445.5 378.3 L445.1 376.6 L444.6 375.0 L444.2 373.3 L443.8 371.6 L443.4 369.9 L443.0 368.3 L442.6 366.6 L442.1 364.9 L441.7 363.2 L441.3 361.6 L440.9 359.9 L440.4 358.2 L440.0 356.6 L439.5 354.9 L439.1 353.2 L438.6 351.6 L438.2 349.9 L437.7 348.3 L437.2 346.6 L436.7 345.0 L436.3 343.3 L435.8 341.7 L435.3 340.0 L434.8 338.4 L434.3 336.8 L433.8 335.1 L433.3 333.5 L432.8 331.8 L432.3 330.2 L431.8 328.6 L431.3 326.9 L430.8 325.3 L430.3 323.7 L429.8 322.1 L429.3 320.4 L428.8 318.8 L428.3 317.2 L427.7 315.6 L427.2 313.9 L426.7 312.3 L426.2 310.7 L425.6 309.1 L425.1 307.4 L424.6 305.8 L424.1 304.2 L423.5 302.6 L423.0 301.0 L422.5 299.3 L422.0 297.7 L421.4 296.1 L420.9 294.5 L420.4 292.8 L419.8 291.2 L419.3 289.6 L418.8 288.0 L418.2 286.4 L417.6 284.8 L416.9 283.1 L416.3 281.6 L415.5 280.0 L414.7 278.4 L413.8 276.8 L412.8 275.3 L411.7 273.8 L410.5 272.3 L409.2 270.9 L407.9 269.7 L406.5 268.7 L405.1 267.9 L403.6 267.4 L402.2 267.3 L400.7 267.5 L399.2 268.0 L397.8 268.9 L396.4 269.9 L395.0 271.1 L393.7 272.4 L392.5 273.9 L391.4 275.3 L390.4 276.8 L389.5 278.3 L388.6 279.8 L387.8 281.3 L387.1 282.9 L386.4 284.5 L385.8 286.1 L385.2 287.7 L384.6 289.3 L384.1 290.9 L383.6 292.6 L383.1 294.2 L382.6 295.9 L382.2 297.5 L381.7 299.2 L381.2 300.8 L380.8 302.5 L380.3 304.1 L379.8 305.8 L379.4 307.4 L378.9 309.0 L378.5 310.7 L378.0 312.3 L377.5 314.0 L377.1 315.6 L376.6 317.3 L376.2 318.9 L375.7 320.6 L375.2 322.2 L374.8 323.9 L374.3 325.5 L373.8 327.2 L373.4 328.8 L372.9 330.5 L372.4 332.1 L372.0 333.8 L371.5 335.4 L371.0 337.0 L370.6 338.7 L370.1 340.3 L369.6 342.0 L369.1 343.6 L368.6 345.3 L368.1 346.9 L367.7 348.5 L367.2 350.2 L366.7 351.8 L366.2 353.5 L365.6 355.1 L365.1 356.7 L364.6 358.4 L364.1 360.0 L363.6 361.7 L363.1 363.3 L362.5 364.9 L362.0 366.6 L361.4 368.2 L360.9 369.8 L360.3 371.4 L359.7 373.0 L359.1 374.7 L358.5 376.3 L357.9 377.9 L357.3 379.5 L356.7 381.1 L356.0 382.6 L355.3 384.2 L354.7 385.8 L354.0 387.3 L353.3 388.9 L352.5 390.4 L351.8 392.0 L351.0 393.5 L350.2 395.0 L349.4 396.5 L348.6 398.0 L347.8 399.5 L346.9 401.0 L346.0 402.5 L345.1 403.9 L344.2 405.4 L343.2 406.8 L342.2 408.2Z" fill="#0000ff" fill-opacity="0.6"/>
<g fill="none" stroke="#000" stroke-width="4.2">
<path d="M137.3 165.7 L140.2 167.3 L143.1 168.9 L146.1 170.5 L149.0 172.1 L151.9 173.7 L154.8 175.3 L157.7 177.0 L160.7 178.6 L163.6 180.2 L166.5 181.9 L169.4 183.5 L172.3 185.2 L175.3 186.9 L178.2 188.5 L181.1 190.2 L184.0 191.9 L186.9 193.5 L189.8 195.2 L192.8 196.9 L195.7 198.6 L198.6 200.3 L201.5 202.0 L204.4 203.7 L207.4 205.4 L210.3 207.1 L213.2 208.8 L216.1 210.5 L219.0 212.3 L222.0 214.0 L224.9 215.7 L227.8 217.4 L230.7 219.2 L233.6 220.9 L236.6 222.7 L239.5 224.4 L242.4 226.1 L245.3 227.9 L248.2 229.7 L251.2 231.4 L254.1 233.2 L257.0 234.9 L259.9 236.7 L262.8 238.5 L265.8 240.2 L268.7 242.0 L271.6 243.8 L274.5 245.5 L277.4 247.3 L280.4 249.1 L283.3 250.9 L286.2 252.6 L289.1 254.4 L292.0 256.2 L294.9 258.0 L297.9 259.8 L300.8 261.6 L303.7 263.4 L306.6 265.2 L309.5 266.9 L312.5 268.7 L315.4 270.5 L318.3 272.3 L321.2 274.1 L324.1 275.9 L327.1 277.7 L330.0 279.5 L332.9 281.3 L335.8 283.1 L338.7 284.9 L341.7 286.7 L344.6 288.5 L347.5 290.3 L350.4 292.1 L353.3 293.9 L356.3 295.7 L359.2 297.5 L362.1 299.3 L365.0 301.1 L367.9 302.9 L370.9 304.7 L373.8 306.5 L376.7 308.3 L379.6 310.1 L382.5 311.9 L385.4 313.7 L388.4 315.5 L391.3 317.3 L394.2 319.1 L397.1 320.8 L400.0 322.6 L403.0 324.4 L405.9 326.2 L408.8 328.0 L411.7 329.8 L414.6 331.6 L417.6 333.3 L420.5 335.1 L423.4 336.9 L426.3 338.7 L429.2 340.4 L432.2 342.2 L435.1 344.0 L438.0 345.8 L440.9 347.5 L443.8 349.3 L446.8 351.1 L449.7 352.8 L452.6 354.6 L455.5 356.3 L458.4 358.1 L461.4 359.8 L464.3 361.6 L467.2 363.3 L470.1 365.1 L473.0 366.8 L476.0 368.5 L478.9 370.3 L481.8 372.0 L484.7 373.7 L487.6 375.5 L490.5 377.2 L493.5 378.9 L496.4 380.6 L499.3 382.3 L502.2 384.1 L505.1 385.8 L508.1 387.5 L511.0 389.2 L513.9 390.9 L516.8 392.6 L519.7 394.2 L522.7 395.9 L525.6 397.6 L528.5 399.3 L531.4 401.0 L534.3 402.6 L537.3 404.3 L540.2 406.0 L543.1 407.6 L546.0 409.3 L548.9 410.9 L551.9 412.6 L554.8 414.2 L557.7 415.9 L560.6 417.5 L563.5 419.1 L566.5 420.8 L569.4 422.4 L572.3 424.0 L575.2 425.6 L578.1 427.2 L581.0 428.8 L584.0 430.4 L586.9 432.0 L589.8 433.6 L592.7 435.2 L595.6 436.8 L598.6 438.4 L601.5 439.9 L604.4 441.5 L607.3 443.1 L610.2 444.6 L613.2 446.2 L616.1 447.7 L619.0 449.3 L621.9 450.8 L624.8 452.4 L627.8 453.9 L630.7 455.4 L633.6 456.9 L636.5 458.4 L639.4 460.0 L642.4 461.5 L645.3 463.0 L648.2 464.5 L651.1 465.9 L654.0 467.4 L657.0 468.9 L659.9 470.4 L662.8 471.8 L665.7 473.3 L668.6 474.8 L671.5 476.2 L674.5 477.7 L677.4 479.1 L680.3 480.5 L683.2 482.0 L686.1 483.4 L689.1 484.8 L692.0 486.2 L694.9 487.6 L697.8 489.0 L700.7 490.4 L703.7 491.8 L706.6 493.2 L709.5 494.6 L712.4 495.9 L715.3 497.3 L718.3 498.7 L721.2 500.0 L724.1 501.4 L727.0 502.7 L729.9 504.1 L732.9 505.4 L735.8 506.7 L738.7 508.0 L741.6 509.4 L744.5 510.7 L747.5 512.0 L750.4 513.3 L753.3 514.6 L756.2 515.9 L759.1 517.1 L762.1 518.4 L765.0 519.7 L767.9 520.9 L770.8 522.2 L773.7 523.4 L776.6 524.7 L779.6 525.9 L782.5 527.2 L785.4 528.4 L788.3 529.6 L791.2 530.8 L794.2 532.0 L797.1 533.2 L800.0 534.4 L802.9 535.6 L805.8 536.8 L808.8 538.0 L811.7 539.2 L814.6 540.3 L817.5 541.5 L820.4 542.6 L823.4 543.8 L826.3 544.9 L829.2 546.1 L832.1 547.2 L835.0 548.3 L838.0 549.4 L840.9 550.6 L843.8 551.7 L846.7 552.8 L849.6 553.9 L852.6 554.9 L855.5 556.0 L858.4 557.1 L861.3 558.2 L864.2 559.2 L867.1 560.3 L870.1 561.4 L873.0 562.4 L875.9 563.4 L878.8 564.5 L881.7 565.5 L884.7 566.5 L887.6 567.5 L890.5 568.6 L893.4 569.6 L896.3 570.6 L899.3 571.6 L902.2 572.5 L905.1 573.5 L908.0 574.5 L910.9 575.5 L913.9 576.4 L916.8 577.4 L919.7 578.3 L922.6 579.3 L925.5 580.2 L928.5 581.2 L931.4 582.1 L934.3 583.0 L937.2 583.9 L940.1 584.9 L943.1 585.8 L946.0 586.7 L948.9 587.6 L951.8 588.4 L954.7 589.3 L957.7 590.2 L960.6 591.1 L963.5 591.9 L966.4 592.8 L969.3 593.7 L972.2 594.5 L975.2 595.4 L978.1 596.2 L981.0 597.0 L983.9 597.8 L986.8 598.7 L989.8 599.5 L992.7 600.3 L995.6 601.1 L998.5 601.9 L1001.4 602.7 L1004.4 603.5 L1007.3 604.3 L1010.2 605.0" stroke-dasharray="12.1 11.35"/>
<path d="M137.3 355.9 L140.2 357.1 L143.1 358.2 L146.1 359.4 L149.0 360.6 L151.9 361.7 L154.8 362.9 L157.7 364.1 L160.7 365.3 L163.6 366.5 L166.5 367.7 L169.4 368.9 L172.3 370.1 L175.3 371.3 L178.2 372.5 L181.1 373.7 L184.0 374.9 L186.9 376.1 L189.8 377.3 L192.8 378.5 L195.7 379.7 L198.6 380.9 L201.5 382.2 L204.4 383.4 L207.4 384.6 L210.3 385.9 L213.2 387.1 L216.1 388.3 L219.0 389.6 L222.0 390.8 L224.9 392.0 L227.8 393.3 L230.7 394.5 L233.6 395.8 L236.6 397.0 L239.5 398.3 L242.4 399.5 L245.3 400.8 L248.2 402.0 L251.2 403.3 L254.1 404.5 L257.0 405.8 L259.9 407.0 L262.8 408.3 L265.8 409.6 L268.7 410.8 L271.6 412.1 L274.5 413.3 L277.4 414.6 L280.4 415.9 L283.3 417.1 L286.2 418.4 L289.1 419.7 L292.0 420.9 L294.9 422.2 L297.9 423.5 L300.8 424.7 L303.7 426.0 L306.6 427.3 L309.5 428.5 L312.5 429.8 L315.4 431.0 L318.3 432.3 L321.2 433.6 L324.1 434.8 L327.1 436.1 L330.0 437.4 L332.9 438.6 L335.8 439.9 L338.7 441.2 L341.7 442.4 L344.6 443.7 L347.5 444.9 L350.4 446.2 L353.3 447.5 L356.3 448.7 L359.2 450.0 L362.1 451.2 L365.0 452.5 L367.9 453.7 L370.9 455.0 L373.8 456.2 L376.7 457.5 L379.6 458.7 L382.5 460.0 L385.4 461.2 L388.4 462.5 L391.3 463.7 L394.2 465.0 L397.1 466.2 L400.0 467.4 L403.0 468.7 L405.9 469.9 L408.8 471.1 L411.7 472.4 L414.6 473.6 L417.6 474.8 L420.5 476.1 L423.4 477.3 L426.3 478.5 L429.2 479.7 L432.2 480.9 L435.1 482.2 L438.0 483.4 L440.9 484.6 L443.8 485.8 L446.8 487.0 L449.7 488.2 L452.6 489.4 L455.5 490.6 L458.4 491.8 L461.4 493.0 L464.3 494.2 L467.2 495.3 L470.1 496.5 L473.0 497.7 L476.0 498.9 L478.9 500.1 L481.8 501.2 L484.7 502.4 L487.6 503.6 L490.5 504.7 L493.5 505.9 L496.4 507.1 L499.3 508.2 L502.2 509.4 L505.1 510.5 L508.1 511.7 L511.0 512.8 L513.9 513.9 L516.8 515.1 L519.7 516.2 L522.7 517.3 L525.6 518.4 L528.5 519.6 L531.4 520.7 L534.3 521.8 L537.3 522.9 L540.2 524.0 L543.1 525.1 L546.0 526.2 L548.9 527.3 L551.9 528.4 L554.8 529.5 L557.7 530.6 L560.6 531.7 L563.5 532.7 L566.5 533.8 L569.4 534.9 L572.3 536.0 L575.2 537.0 L578.1 538.1 L581.0 539.1 L584.0 540.2 L586.9 541.2 L589.8 542.3 L592.7 543.3 L595.6 544.3 L598.6 545.4 L601.5 546.4 L604.4 547.4 L607.3 548.4 L610.2 549.5 L613.2 550.5 L616.1 551.5 L619.0 552.5 L621.9 553.5 L624.8 554.5 L627.8 555.5 L630.7 556.4 L633.6 557.4 L636.5 558.4 L639.4 559.4 L642.4 560.3 L645.3 561.3 L648.2 562.3 L651.1 563.2 L654.0 564.2 L657.0 565.1 L659.9 566.1 L662.8 567.0 L665.7 567.9 L668.6 568.9 L671.5 569.8 L674.5 570.7 L677.4 571.6 L680.3 572.5 L683.2 573.4 L686.1 574.3 L689.1 575.2 L692.0 576.1 L694.9 577.0 L697.8 577.9 L700.7 578.8 L703.7 579.7 L706.6 580.5 L709.5 581.4 L712.4 582.3 L715.3 583.1 L718.3 584.0 L721.2 584.8 L724.1 585.7 L727.0 586.5 L729.9 587.4 L732.9 588.2 L735.8 589.0 L738.7 589.8 L741.6 590.7 L744.5 591.5 L747.5 592.3 L750.4 593.1 L753.3 593.9 L756.2 594.7 L759.1 595.5 L762.1 596.2 L765.0 597.0 L767.9 597.8 L770.8 598.6 L773.7 599.3 L776.6 600.1 L779.6 600.9 L782.5 601.6 L785.4 602.4 L788.3 603.1 L791.2 603.9 L794.2 604.6 L797.1 605.3 L800.0 606.1 L802.9 606.8 L805.8 607.5 L808.8 608.2 L811.7 608.9 L814.6 609.6 L817.5 610.3 L820.4 611.0 L823.4 611.7 L826.3 612.4 L829.2 613.1 L832.1 613.8 L835.0 614.4 L838.0 615.1 L840.9 615.8 L843.8 616.4 L846.7 617.1 L849.6 617.8 L852.6 618.4 L855.5 619.0 L858.4 619.7 L861.3 620.3 L864.2 621.0 L867.1 621.6 L870.1 622.2 L873.0 622.8 L875.9 623.4 L878.8 624.0 L881.7 624.7 L884.7 625.3 L887.6 625.9 L890.5 626.4 L893.4 627.0 L896.3 627.6 L899.3 628.2 L902.2 628.8 L905.1 629.3 L908.0 629.9 L910.9 630.5 L913.9 631.0 L916.8 631.6 L919.7 632.1 L922.6 632.7 L925.5 633.2 L928.5 633.8 L931.4 634.3 L934.3 634.8 L937.2 635.4 L940.1 635.9 L943.1 636.4 L946.0 636.9 L948.9 637.4 L951.8 638.0 L954.7 638.5 L957.7 639.0 L960.6 639.5 L963.5 640.0 L966.4 640.4 L969.3 640.9 L972.2 641.4 L975.2 641.9 L978.1 642.4 L981.0 642.8 L983.9 643.3 L986.8 643.8 L989.8 644.2 L992.7 644.7 L995.6 645.1 L998.5 645.6 L1001.4 646.0 L1004.4 646.5 L1007.3 646.9 L1010.2 647.3" stroke-dasharray="6.2 9.43 2.3 9.43"/>
<path d="M400.0 1.8 L402.0 3.7 L404.1 5.5 L406.1 7.4 L408.2 9.3 L410.2 11.2 L412.2 13.1 L414.3 15.0 L416.3 16.9 L418.4 18.8 L420.4 20.8 L422.4 22.7 L424.5 24.6 L426.5 26.5 L428.6 28.4 L430.6 30.3 L432.7 32.3 L434.7 34.2 L436.7 36.1 L438.8 38.0 L440.8 40.0 L442.9 41.9 L444.9 43.8 L446.9 45.7 L449.0 47.7 L451.0 49.6 L453.1 51.5 L455.1 53.5 L457.1 55.4 L459.2 57.4 L461.2 59.3 L463.3 61.2 L465.3 63.2 L467.3 65.1 L469.4 67.1 L471.4 69.0 L473.5 71.0 L475.5 72.9 L477.6 74.8 L479.6 76.8 L481.6 78.7 L483.7 80.7 L485.7 82.6 L487.8 84.6 L489.8 86.5 L491.8 88.5 L493.9 90.4 L495.9 92.4 L498.0 94.3 L500.0 96.2 L502.0 98.2 L504.1 100.1 L506.1 102.1 L508.2 104.0 L510.2 106.0 L512.2 107.9 L514.3 109.9 L516.3 111.8 L518.4 113.8 L520.4 115.7 L522.4 117.6 L524.5 119.6 L526.5 121.5 L528.6 123.5 L530.6 125.4 L532.7 127.3 L534.7 129.3 L536.7 131.2 L538.8 133.1 L540.8 135.1 L542.9 137.0 L544.9 138.9 L546.9 140.9 L549.0 142.8 L551.0 144.7 L553.1 146.6 L555.1 148.6 L557.1 150.5 L559.2 152.4 L561.2 154.3 L563.3 156.3 L565.3 158.2 L567.3 160.1 L569.4 162.0 L571.4 163.9 L573.5 165.8 L575.5 167.7 L577.5 169.6 L579.6 171.5 L581.6 173.4 L583.7 175.3 L585.7 177.2 L587.8 179.1 L589.8 181.0 L591.8 182.9 L593.9 184.8 L595.9 186.7 L598.0 188.6 L600.0 190.5 L602.0 192.3 L604.1 194.2 L606.1 196.1 L608.2 198.0 L610.2 199.8 L612.2 201.7 L614.3 203.6 L616.3 205.4 L618.4 207.3 L620.4 209.2 L622.4 211.0 L624.5 212.9 L626.5 214.7 L628.6 216.6 L630.6 218.4 L632.7 220.2 L634.7 222.1 L636.7 223.9 L638.8 225.8 L640.8 227.6 L642.9 229.4 L644.9 231.2 L646.9 233.1 L649.0 234.9 L651.0 236.7 L653.1 238.5 L655.1 240.3 L657.1 242.1 L659.2 243.9 L661.2 245.7 L663.3 247.5 L665.3 249.3 L667.3 251.1 L669.4 252.9 L671.4 254.6 L673.5 256.4 L675.5 258.2 L677.5 260.0 L679.6 261.7 L681.6 263.5 L683.7 265.3 L685.7 267.0 L687.8 268.8 L689.8 270.5 L691.8 272.3 L693.9 274.0 L695.9 275.7 L698.0 277.5 L700.0 279.2 L702.0 280.9 L704.1 282.6 L706.1 284.4 L708.2 286.1 L710.2 287.8 L712.2 289.5 L714.3 291.2 L716.3 292.9 L718.4 294.6 L720.4 296.3 L722.4 298.0 L724.5 299.7 L726.5 301.3 L728.6 303.0 L730.6 304.7 L732.7 306.4 L734.7 308.0 L736.7 309.7 L738.8 311.3 L740.8 313.0 L742.9 314.6 L744.9 316.3 L746.9 317.9 L749.0 319.5 L751.0 321.2 L753.1 322.8 L755.1 324.4 L757.1 326.0 L759.2 327.6 L761.2 329.3 L763.3 330.9 L765.3 332.5 L767.3 334.1 L769.4 335.6 L771.4 337.2 L773.5 338.8 L775.5 340.4 L777.5 342.0 L779.6 343.5 L781.6 345.1 L783.7 346.7 L785.7 348.2 L787.8 349.8 L789.8 351.3 L791.8 352.9 L793.9 354.4 L795.9 355.9 L798.0 357.5 L800.0 359.0 L802.0 360.5 L804.1 362.0 L806.1 363.5 L808.2 365.0 L810.2 366.5 L812.2 368.0 L814.3 369.5 L816.3 371.0 L818.4 372.5 L820.4 374.0 L822.4 375.5 L824.5 376.9 L826.5 378.4 L828.6 379.8 L830.6 381.3 L832.7 382.8 L834.7 384.2 L836.7 385.6 L838.8 387.1 L840.8 388.5 L842.9 389.9 L844.9 391.4 L846.9 392.8 L849.0 394.2 L851.0 395.6 L853.1 397.0 L855.1 398.4 L857.1 399.8 L859.2 401.2 L861.2 402.6 L863.3 404.0 L865.3 405.3 L867.3 406.7 L869.4 408.1 L871.4 409.4 L873.5 410.8 L875.5 412.2 L877.5 413.5 L879.6 414.9 L881.6 416.2 L883.7 417.5 L885.7 418.9 L887.8 420.2 L889.8 421.5 L891.8 422.8 L893.9 424.1 L895.9 425.4 L898.0 426.7 L900.0 428.0 L902.0 429.3 L904.1 430.6 L906.1 431.9 L908.2 433.2 L910.2 434.4 L912.2 435.7 L914.3 437.0 L916.3 438.2 L918.4 439.5 L920.4 440.7 L922.4 442.0 L924.5 443.2 L926.5 444.5 L928.6 445.7 L930.6 446.9 L932.6 448.1 L934.7 449.4 L936.7 450.6 L938.8 451.8 L940.8 453.0 L942.9 454.2 L944.9 455.4 L946.9 456.6 L949.0 457.8 L951.0 458.9 L953.1 460.1 L955.1 461.3 L957.1 462.4 L959.2 463.6 L961.2 464.8 L963.3 465.9 L965.3 467.1 L967.3 468.2 L969.4 469.3 L971.4 470.5 L973.5 471.6 L975.5 472.7 L977.5 473.9 L979.6 475.0 L981.6 476.1 L983.7 477.2 L985.7 478.3 L987.8 479.4 L989.8 480.5 L991.8 481.6 L993.9 482.7 L995.9 483.7 L998.0 484.8 L1000.0 485.9 L1002.0 486.9 L1004.1 488.0 L1006.1 489.1 L1008.2 490.1 L1010.2 491.2" stroke-dasharray="6.2 9.43 2.3 9.43" stroke-dashoffset="-1.3"/>
</g>
</g>
<g stroke="#000" fill="none">
<path d="M137.30 688.70V680.70" stroke-width="1.00"/>
<path d="M137.30 12.90V20.90" stroke-width="1.00"/>
<path d="M157.84 688.70V684.70" stroke-width="1.00"/>
<path d="M157.84 12.90V16.90" stroke-width="1.00"/>
<path d="M178.38 688.70V684.70" stroke-width="1.00"/>
<path d="M178.38 12.90V16.90" stroke-width="1.00"/>
<path d="M198.92 688.70V684.70" stroke-width="1.00"/>
<path d="M198.92 12.90V16.90" stroke-width="1.00"/>
<path d="M219.46 688.70V684.70" stroke-width="1.00"/>
<path d="M219.46 12.90V16.90" stroke-width="1.00"/>
<path d="M240.00 688.70V680.70" stroke-width="1.00"/>
<path d="M240.00 12.90V20.90" stroke-width="1.00"/>
<path d="M260.54 688.70V684.70" stroke-width="1.00"/>
<path d="M260.54 12.90V16.90" stroke-width="1.00"/>
<path d="M281.08 688.70V684.70" stroke-width="1.00"/>
<path d="M281.08 12.90V16.90" stroke-width="1.00"/>
<path d="M301.62 688.70V684.70" stroke-width="1.00"/>
<path d="M301.62 12.90V16.90" stroke-width="1.00"/>
<path d="M322.16 688.70V684.70" stroke-width="1.00"/>
<path d="M322.16 12.90V16.90" stroke-width="1.00"/>
<path d="M342.70 688.70V680.70" stroke-width="1.00"/>
<path d="M342.70 12.90V20.90" stroke-width="1.00"/>
<path d="M363.24 688.70V684.70" stroke-width="1.00"/>
<path d="M363.24 12.90V16.90" stroke-width="1.00"/>
<path d="M383.78 688.70V684.70" stroke-width="1.00"/>
<path d="M383.78 12.90V16.90" stroke-width="1.00"/>
<path d="M404.32 688.70V684.70" stroke-width="1.00"/>
<path d="M404.32 12.90V16.90" stroke-width="1.00"/>
<path d="M424.86 688.70V684.70" stroke-width="1.00"/>
<path d="M424.86 12.90V16.90" stroke-width="1.00"/>
<path d="M445.40 688.70V680.70" stroke-width="1.00"/>
<path d="M445.40 12.90V20.90" stroke-width="1.00"/>
<path d="M465.94 688.70V684.70" stroke-width="1.00"/>
<path d="M465.94 12.90V16.90" stroke-width="1.00"/>
<path d="M486.48 688.70V684.70" stroke-width="1.00"/>
<path d="M486.48 12.90V16.90" stroke-width="1.00"/>
<path d="M507.02 688.70V684.70" stroke-width="1.00"/>
<path d="M507.02 12.90V16.90" stroke-width="1.00"/>
<path d="M527.56 688.70V684.70" stroke-width="1.00"/>
<path d="M527.56 12.90V16.90" stroke-width="1.00"/>
<path d="M548.10 688.70V680.70" stroke-width="1.00"/>
<path d="M548.10 12.90V20.90" stroke-width="1.00"/>
<path d="M568.64 688.70V684.70" stroke-width="1.00"/>
<path d="M568.64 12.90V16.90" stroke-width="1.00"/>
<path d="M589.18 688.70V684.70" stroke-width="1.00"/>
<path d="M589.18 12.90V16.90" stroke-width="1.00"/>
<path d="M609.72 688.70V684.70" stroke-width="1.00"/>
<path d="M609.72 12.90V16.90" stroke-width="1.00"/>
<path d="M630.26 688.70V684.70" stroke-width="1.00"/>
<path d="M630.26 12.90V16.90" stroke-width="1.00"/>
<path d="M650.80 688.70V680.70" stroke-width="1.00"/>
<path d="M650.80 12.90V20.90" stroke-width="1.00"/>
<path d="M671.34 688.70V684.70" stroke-width="1.00"/>
<path d="M671.34 12.90V16.90" stroke-width="1.00"/>
<path d="M691.88 688.70V684.70" stroke-width="1.00"/>
<path d="M691.88 12.90V16.90" stroke-width="1.00"/>
<path d="M712.42 688.70V684.70" stroke-width="1.00"/>
<path d="M712.42 12.90V16.90" stroke-width="1.00"/>
<path d="M732.96 688.70V684.70" stroke-width="1.00"/>
<path d="M732.96 12.90V16.90" stroke-width="1.00"/>
<path d="M753.50 688.70V680.70" stroke-width="1.00"/>
<path d="M753.50 12.90V20.90" stroke-width="1.00"/>
<path d="M774.04 688.70V684.70" stroke-width="1.00"/>
<path d="M774.04 12.90V16.90" stroke-width="1.00"/>
<path d="M794.58 688.70V684.70" stroke-width="1.00"/>
<path d="M794.58 12.90V16.90" stroke-width="1.00"/>
<path d="M815.12 688.70V684.70" stroke-width="1.00"/>
<path d="M815.12 12.90V16.90" stroke-width="1.00"/>
<path d="M835.66 688.70V684.70" stroke-width="1.00"/>
<path d="M835.66 12.90V16.90" stroke-width="1.00"/>
<path d="M856.20 688.70V680.70" stroke-width="1.00"/>
<path d="M856.20 12.90V20.90" stroke-width="1.00"/>
<path d="M876.74 688.70V684.70" stroke-width="1.00"/>
<path d="M876.74 12.90V16.90" stroke-width="1.00"/>
<path d="M897.28 688.70V684.70" stroke-width="1.00"/>
<path d="M897.28 12.90V16.90" stroke-width="1.00"/>
<path d="M917.82 688.70V684.70" stroke-width="1.00"/>
<path d="M917.82 12.90V16.90" stroke-width="1.00"/>
<path d="M938.36 688.70V684.70" stroke-width="1.00"/>
<path d="M938.36 12.90V16.90" stroke-width="1.00"/>
<path d="M958.90 688.70V680.70" stroke-width="1.00"/>
<path d="M958.90 12.90V20.90" stroke-width="1.00"/>
<path d="M979.44 688.70V684.70" stroke-width="1.00"/>
<path d="M979.44 12.90V16.90" stroke-width="1.00"/>
<path d="M999.98 688.70V684.70" stroke-width="1.00"/>
<path d="M999.98 12.90V16.90" stroke-width="1.00"/>
<path d="M137.30 688.70H145.30" stroke-width="1.00"/>
<path d="M1010.20 688.70H1002.20" stroke-width="1.00"/>
<path d="M137.30 661.66H141.30" stroke-width="1.00"/>
<path d="M1010.20 661.66H1006.20" stroke-width="1.00"/>
<path d="M137.30 634.62H141.30" stroke-width="1.00"/>
<path d="M1010.20 634.62H1006.20" stroke-width="1.00"/>
<path d="M137.30 607.58H141.30" stroke-width="1.00"/>
<path d="M1010.20 607.58H1006.20" stroke-width="1.00"/>
<path d="M137.30 580.54H141.30" stroke-width="1.00"/>
<path d="M1010.20 580.54H1006.20" stroke-width="1.00"/>
<path d="M137.30 553.50H145.30" stroke-width="1.00"/>
<path d="M1010.20 553.50H1002.20" stroke-width="1.00"/>
<path d="M137.30 526.46H141.30" stroke-width="1.00"/>
<path d="M1010.20 526.46H1006.20" stroke-width="1.00"/>
<path d="M137.30 499.42H141.30" stroke-width="1.00"/>
<path d="M1010.20 499.42H1006.20" stroke-width="1.00"/>
<path d="M137.30 472.38H141.30" stroke-width="1.00"/>
<path d="M1010.20 472.38H1006.20" stroke-width="1.00"/>
<path d="M137.30 445.34H141.30" stroke-width="1.00"/>
<path d="M1010.20 445.34H1006.20" stroke-width="1.00"/>
<path d="M137.30 418.30H145.30" stroke-width="1.00"/>
<path d="M1010.20 418.30H1002.20" stroke-width="1.00"/>
<path d="M137.30 391.26H141.30" stroke-width="1.00"/>
<path d="M1010.20 391.26H1006.20" stroke-width="1.00"/>
<path d="M137.30 364.22H141.30" stroke-width="1.00"/>
<path d="M1010.20 364.22H1006.20" stroke-width="1.00"/>
<path d="M137.30 337.18H141.30" stroke-width="1.00"/>
<path d="M1010.20 337.18H1006.20" stroke-width="1.00"/>
<path d="M137.30 310.14H141.30" stroke-width="1.00"/>
<path d="M1010.20 310.14H1006.20" stroke-width="1.00"/>
<path d="M137.30 283.10H145.30" stroke-width="1.00"/>
<path d="M1010.20 283.10H1002.20" stroke-width="1.00"/>
<path d="M137.30 256.06H141.30" stroke-width="1.00"/>
<path d="M1010.20 256.06H1006.20" stroke-width="1.00"/>
<path d="M137.30 229.02H141.30" stroke-width="1.00"/>
<path d="M1010.20 229.02H1006.20" stroke-width="1.00"/>
<path d="M137.30 201.98H141.30" stroke-width="1.00"/>
<path d="M1010.20 201.98H1006.20" stroke-width="1.00"/>
<path d="M137.30 174.94H141.30" stroke-width="1.00"/>
<path d="M1010.20 174.94H1006.20" stroke-width="1.00"/>
<path d="M137.30 147.90H145.30" stroke-width="1.00"/>
<path d="M1010.20 147.90H1002.20" stroke-width="1.00"/>
<path d="M137.30 120.86H141.30" stroke-width="1.00"/>
<path d="M1010.20 120.86H1006.20" stroke-width="1.00"/>
<path d="M137.30 93.82H141.30" stroke-width="1.00"/>
<path d="M1010.20 93.82H1006.20" stroke-width="1.00"/>
<path d="M137.30 66.78H141.30" stroke-width="1.00"/>
<path d="M1010.20 66.78H1006.20" stroke-width="1.00"/>
<path d="M137.30 39.74H141.30" stroke-width="1.00"/>
<path d="M1010.20 39.74H1006.20" stroke-width="1.00"/>
<path d="M137.30 12.70H145.30" stroke-width="1.00"/>
<path d="M1010.20 12.70H1002.20" stroke-width="1.00"/>
</g>
<rect x="137.30" y="12.90" width="872.90" height="675.80" fill="none" stroke="#000" stroke-width="2"/>
<g class="tk">
<text x="138.7" y="717.5" text-anchor="middle">0.0</text>
<text x="241.4" y="717.5" text-anchor="middle">0.1</text>
<text x="344.1" y="717.5" text-anchor="middle">0.2</text>
<text x="446.8" y="717.5" text-anchor="middle">0.3</text>
<text x="549.5" y="717.5" text-anchor="middle">0.4</text>
<text x="652.2" y="717.5" text-anchor="middle">0.5</text>
<text x="754.9" y="717.5" text-anchor="middle">0.6</text>
<text x="857.6" y="717.5" text-anchor="middle">0.7</text>
<text x="960.3" y="717.5" text-anchor="middle">0.8</text>
<text x="133.6" y="696.7" text-anchor="end">0.00</text>
<text x="133.6" y="561.5" text-anchor="end">0.05</text>
<text x="133.6" y="426.3" text-anchor="end">0.10</text>
<text x="133.6" y="291.1" text-anchor="end">0.15</text>
<text x="133.6" y="155.9" text-anchor="end">0.20</text>
<text x="133.6" y="20.7" text-anchor="end">0.25</text>
</g>
<path d="M620.6 69.9H676.2" stroke="#000" stroke-width="4.2" stroke-dasharray="12.3 11.15" fill="none"/>
<rect x="608.9" y="115.1" width="78.6" height="27.4" fill="#ff0000" fill-opacity="0.8"/>
<rect x="608.9" y="172.3" width="78.6" height="27.4" fill="#0000ff" fill-opacity="0.6"/>
<text class="lg" x="718.2" y="142.6">DR8</text>
<text class="lg" x="718.4" y="199.5" letter-spacing="0.6">SVA1</text>
<text class="mi" font-size="100px" transform="matrix(0.4988 0 0 0.3828 717.45 83.69)">n</text>
<text class="mr" font-size="100px" transform="matrix(0.3608 0 0 0.4300 744.38 83.57)">(</text>
<text class="mi" font-size="100px" transform="matrix(0.4416 0 0 0.4108 759.44 83.40)">M</text>
<text class="mr" font-size="100px" transform="matrix(0.5290 0 0 0.4979 802.35 89.68)">&gt;</text>
<text class="mr" font-size="100px" transform="matrix(0.3886 0 0 0.4046 832.20 83.40)">1</text>
<text class="mr" font-size="100px" transform="matrix(0.4790 0 0 0.4840 860.67 89.59)">×</text>
<text class="mr" font-size="100px" transform="matrix(0.3954 0 0 0.4015 884.54 83.60)">10</text>
<text class="mr" font-size="100px" transform="matrix(0.2682 0 0 0.2840 923.79 67.20)">14</text>
<text class="mr" font-size="100px" transform="matrix(0.3462 0 0 0.4300 959.26 83.57)">)</text>
<text class="mi" font-size="100px" transform="matrix(0.4156 0 0 0.3804 555.42 758.80)">z</text>
<text class="mi" font-size="100px" transform="matrix(0.3333 0 0 0.3029 572.83 770.50)">λ</text>
<g transform="rotate(-90)">
<text class="mi" font-size="100px" transform="matrix(0.5200 0 0 0.3828 -576.82 35.89)">n</text>
<text class="mr" font-size="100px" transform="matrix(0.4235 0 0 0.4333 -549.91 35.80)">(</text>
<text class="mr" font-size="100px" transform="matrix(0.3931 0 0 0.3941 -537.94 35.61)">10</text>
<text class="mr" font-size="100px" transform="matrix(0.3330 0 0 0.2708 -497.97 19.34)">−4</text>
<text class="mr" font-size="100px" transform="matrix(0.4218 0 0 0.3814 -461.29 35.72)">clusters</text>
<text class="mr" font-size="100px" transform="matrix(0.5353 0 -0.1125 0.5353 -331.79 44.46)">/</text>
<text class="mi" font-size="100px" transform="matrix(0.4376 0 0 0.4000 -307.53 36.20)">h</text>
<text class="mr" font-size="100px" transform="matrix(0.3549 0 0 0.2731 -287.17 19.23)">−3</text>
<text class="mr" font-size="100px" transform="matrix(0.3859 0 0 0.4151 -244.16 35.88)">Mpc</text>
<text class="mr" font-size="100px" transform="matrix(0.3610 0 0 0.2731 -173.10 19.23)">3</text>
<text class="mr" font-size="100px" transform="matrix(0.4231 0 0 0.4400 -143.27 35.76)">)</text>
</g>
</svg>
</body></html>
